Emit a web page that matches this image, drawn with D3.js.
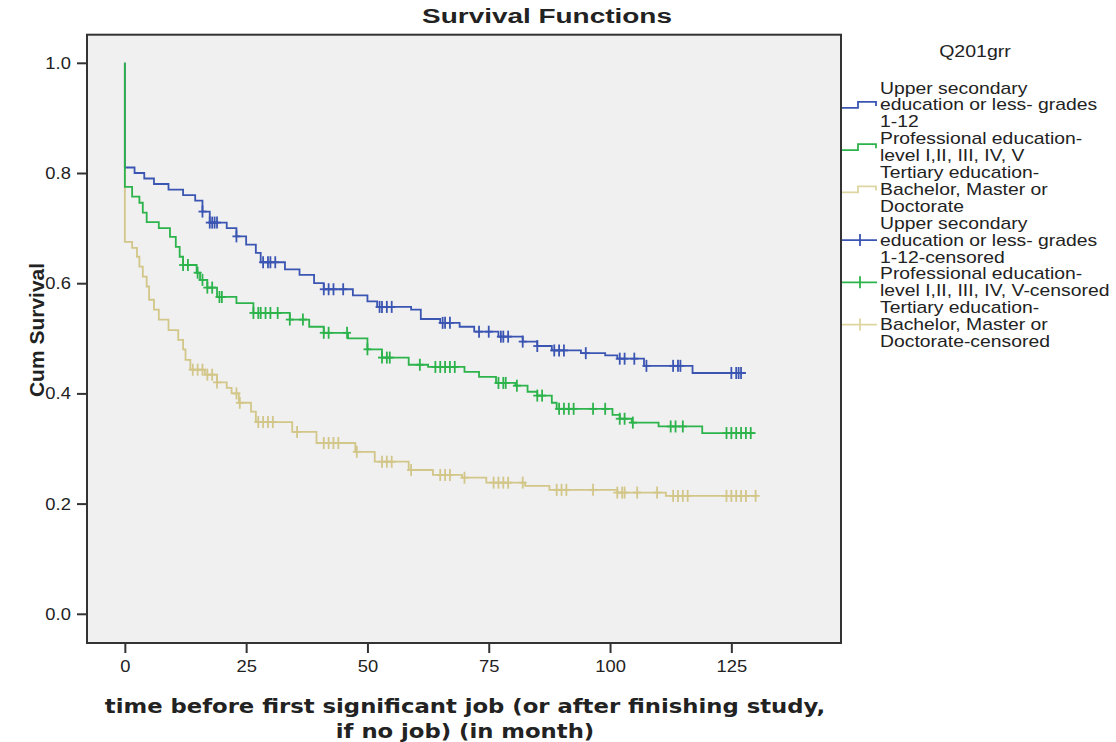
<!DOCTYPE html>
<html>
<head>
<meta charset="utf-8">
<script src="https://cdn.jsdelivr.net/npm/d3@7"></script>
<style>
  body { margin: 0; background: #fff; }
  text { font-family: Arial, "Liberation Sans", sans-serif; fill: #222; }
</style>
</head>
<body>
<script>
// Kaplan-Meier steps: [month, cum survival]
var blueSteps = [[0,0.81],[2,0.80],[4,0.79],[6,0.78],[9,0.77],[12,0.76],[14.5,0.75],[16,0.73],[17.5,0.71],
  [21,0.70],[23,0.685],[25,0.67],[27,0.655],[28,0.638],[33,0.625],[36,0.615],[39,0.60],[41,0.589],[47,0.578],
  [50,0.567],[52,0.557],[59,0.552],[61,0.535],[65,0.528],[69,0.521],[72,0.512],[77,0.503],[82,0.494],[85,0.486],
  [88,0.478],[94,0.473],[99,0.469],[101.5,0.463],[107,0.45],[117,0.437]];
var blueEnd = 128;
var blueCensored = [16,17.5,18,18.5,19,23,28.5,29.5,30,31,41,42,43,45,52.5,53,54,55,65.5,66,67,73,75,77.5,78,79,
  82,85,88.5,89.5,90.5,95,102,103,105,107.5,113,114,114.5,125,126,126.5,127];

var greenSteps = [[0,0.775],[1.5,0.757],[3,0.746],[3.7,0.728],[4.5,0.711],[7,0.70],[9.3,0.684],[10.5,0.666],
  [11.3,0.648],[12,0.633],[14.8,0.619],[15.5,0.606],[17,0.592],[19,0.575],[23,0.564],[26.5,0.546],[34,0.534],
  [38,0.521],[41,0.51],[46,0.50],[50,0.48],[53,0.465],[58.5,0.452],[62.5,0.448],[70,0.439],[73,0.43],[76.5,0.419],
  [80.5,0.414],[83,0.403],[85,0.396],[88,0.383],[89,0.372],[100.5,0.361],[102,0.354],[104.5,0.347],[110,0.34],
  [119,0.328]];
var greenEnd = 130;
var greenCensored = [12,13,15,16,17,18,19.5,20,26.5,27.5,28,29,30,31.5,34,36.7,41,42,45.8,50,53,54,54.6,60.8,
  64,65,66,67,68,77,78,78.5,80.8,85,86,89.5,90.5,91.5,92.5,96.5,99,102,103,104.7,112.5,113.5,115,
  124,125,126,127,128,129];

var tanSteps = [[0,0.675],[1.5,0.664],[2.5,0.648],[3,0.63],[3.7,0.612],[4.5,0.594],[5,0.57],[6,0.552],[7,0.534],
  [9,0.515],[11,0.497],[12,0.48],[12.5,0.461],[13.5,0.443],[16.5,0.434],[19,0.42],[21,0.41],[22,0.40],[23.5,0.383],
  [26,0.367],[27,0.348],[34.5,0.33],[39.5,0.31],[47.5,0.294],[51.5,0.276],[58.5,0.261],[63.5,0.252],[69.5,0.247],
  [74.5,0.238],[82.5,0.232],[87.5,0.225],[101.5,0.22],[111.5,0.214]];
var tanEnd = 130;
var tanCensored = [14,15,16,17,18,19,23,23.7,27.5,28.5,29.5,30.5,35.5,41,42,43,44,47.8,53,54,55,59,65,66,67,70,
  76,77,78,79,82,89,90,91,96.5,101.5,102.5,103,105.6,109.7,113,114,115,116,124,125,126,127,128,130];

var legendTitle = 'Q201grr';
var legendBlocks = [
  ['Upper secondary', 'education or less- grades', '1-12'],
  ['Professional education-', 'level I,II, III, IV, V'],
  ['Tertiary education-', 'Bachelor, Master or', 'Doctorate'],
  ['Upper secondary', 'education or less- grades', '1-12-censored'],
  ['Professional education-', 'level I,II, III, IV, V-censored'],
  ['Tertiary education-', 'Bachelor, Master or', 'Doctorate-censored']
];
var yTicks = [0, 0.2, 0.4, 0.6, 0.8, 1.0];
var xTicks = [0, 25, 50, 75, 100, 125];

var blueC = '#3b55b2', greenC = '#2db34b', tanC = '#d2c689';

var W = 1116, H = 742;
var svg = d3.select('body').append('svg')
            .attr('width', W)
            .attr('height', H);

var pLeft = 87, pRight = 841, pTop = 34.7, pBottom = 643;
var x = d3.scaleLinear().domain([-7.8, 147.6]).range([pLeft, pRight]);
var y = d3.scaleLinear().domain([-0.053, 1.051]).range([pBottom, pTop]);

// plot frame
svg.append('rect')
   .attr('x', pLeft).attr('y', pTop)
   .attr('width', pRight - pLeft).attr('height', pBottom - pTop)
   .attr('fill', '#f0f0f0')
   .attr('stroke', '#333').attr('stroke-width', 2);

// axes
var yAxis = svg.append('g')
   .attr('transform', 'translate(' + pLeft + ',0)')
   .call(d3.axisLeft(y).tickValues(yTicks).tickFormat(d3.format('.1f')).tickSize(10).tickPadding(4));
var xAxis = svg.append('g')
   .attr('transform', 'translate(0,' + pBottom + ')')
   .call(d3.axisBottom(x).tickValues(xTicks).tickSize(10).tickPadding(7));
[yAxis, xAxis].forEach(function (a) {
  a.select('.domain').remove();
  a.selectAll('.tick line').attr('stroke', '#333').attr('stroke-width', 2);
  a.selectAll('.tick text')
   .style('font-family', 'Arial, "Liberation Sans", sans-serif')
   .style('font-size', '17px')
   .attr('fill', '#333');
});
yAxis.selectAll('.tick text').attr('transform', 'translate(-1,0) scale(1.08,1)');
xAxis.selectAll('.tick text').attr('transform', 'scale(1.08,1)');

// survival curves
var line = d3.line()
  .x(function (d) { return x(d[0]); })
  .y(function (d) { return y(d[1]); })
  .curve(d3.curveStepAfter);

var survAt = function (steps, t) {
  var s = steps[0][1];
  steps.forEach(function (p) { if (p[0] <= t) s = p[1]; });
  return s;
};

var drawGroup = function (steps, end, censored, color) {
  var pts = [[0, 1]].concat(steps);
  pts.push([end, steps[steps.length - 1][1]]);
  svg.append('path')
     .attr('d', line(pts))
     .attr('fill', 'none')
     .attr('stroke', color)
     .attr('stroke-width', 1.8);

  var marks = svg.append('g').selectAll('g')
     .data(censored)
     .enter().append('g')
     .attr('transform', function (d) { return 'translate(' + x(d) + ',' + y(survAt(steps, d)) + ')'; });
  marks.append('line').attr('x1', 0).attr('x2', 0).attr('y1', -6).attr('y2', 6)
       .attr('stroke', color).attr('stroke-width', 1.8);
  marks.append('line').attr('x1', -4).attr('x2', 4).attr('y1', 0).attr('y2', 0)
       .attr('stroke', color).attr('stroke-width', 1.8);
};

drawGroup(tanSteps, tanEnd, tanCensored, tanC);
drawGroup(blueSteps, blueEnd, blueCensored, blueC);
drawGroup(greenSteps, greenEnd, greenCensored, greenC);

// titles
var fitText = function (sel, width) {
  var w = sel.node().getComputedTextLength();
  return width / w;
};

var title = svg.append('text')
   .attr('text-anchor', 'middle')
   .style('font-weight', 'bold').style('font-size', '21px')
   .text('Survival Functions');
var tk = fitText(title, 250);
title.attr('transform', 'translate(547,23) scale(' + tk + ',1)');

svg.append('text')
   .attr('transform', 'translate(44,330) rotate(-90)')
   .attr('text-anchor', 'middle')
   .style('font-weight', 'bold').style('font-size', '21px')
   .text('Cum Survival');

var xt1 = svg.append('text')
   .attr('text-anchor', 'middle')
   .style('font-family', '"DejaVu Sans", Verdana, sans-serif')
   .style('font-weight', 'bold').style('font-size', '19px')
   .text('time before first significant job (or after finishing study,');
var xk = fitText(xt1, 721);
xt1.attr('transform', 'translate(465,713) scale(' + xk + ',1)');
svg.append('text')
   .attr('text-anchor', 'middle')
   .style('font-family', '"DejaVu Sans", Verdana, sans-serif')
   .style('font-weight', 'bold').style('font-size', '19px')
   .attr('transform', 'translate(465,738) scale(' + xk + ',1)')
   .text('if no job) (in month)');

// legend
svg.append('text')
   .attr('text-anchor', 'middle')
   .attr('transform', 'translate(975,57) scale(1.15,1)')
   .style('font-size', '17px')
   .text(legendTitle);

var symColors = [blueC, greenC, '#ddd6a0', blueC, greenC, '#ddd6a0'];
var rowY = 88, rowH = 16.9, lx = 880;
legendBlocks.forEach(function (lines, i) {
  var first = rowY;
  lines.forEach(function (s) {
    svg.append('text')
       .attr('transform', 'translate(' + lx + ',' + (rowY + 5.5) + ') scale(1.21,1)')
       .style('font-size', '16px')
       .text(s);
    rowY += rowH;
  });
  var cy = (first + rowY - rowH) / 2;
  if (i < 3) {
    svg.append('path')
       .attr('d', 'M842,' + (cy + 3) + 'H858V' + (cy - 3) + 'H876V' + (cy + 1))
       .attr('fill', 'none').attr('stroke', symColors[i]).attr('stroke-width', 1.8);
  } else {
    svg.append('path')
       .attr('d', 'M842,' + cy + 'H877M860,' + (cy - 6) + 'V' + (cy + 6))
       .attr('fill', 'none').attr('stroke', symColors[i]).attr('stroke-width', 1.8);
  }
});
</script>
</body>
</html>
